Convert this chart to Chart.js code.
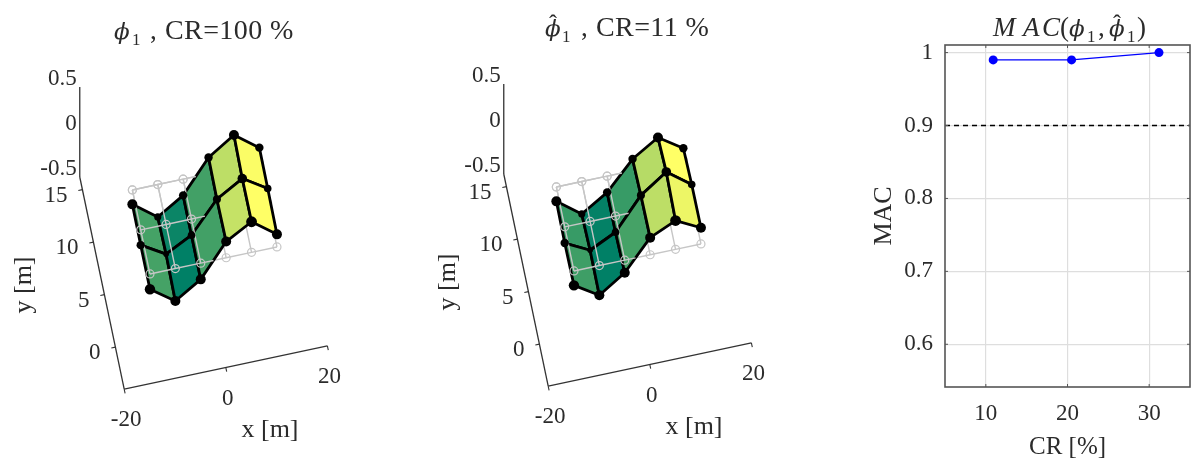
<!DOCTYPE html>
<html>
<head>
<meta charset="utf-8">
<title>MAC chart</title>
<script src="https://cdn.jsdelivr.net/npm/chart.js@4/dist/chart.umd.min.js"></script>
<style>
    html, body { margin: 0; padding: 0; background: #fff; overflow: hidden; }
    canvas { position: absolute; }
    #full { left: 0; top: 0; }
    #reduced { left: 424px; top: -3px; }
    #mac { left: 860px; top: 0; }
</style>
</head>
<body>
<canvas id="full" width="408" height="462"></canvas>
<canvas id="reduced" width="408" height="465"></canvas>
<canvas id="mac" width="332" height="462"></canvas>
<script>
// sensor grid [m]
const gridX = [-10.6, -5.6, -0.6, 4.4, 9.4, 14.4];
const gridY = [14, 10.2, 6];

// mode shape displacement at each sensor, one row per gridY
const modeFull = [
    [-0.16, -0.36, -0.18, 0.18, 0.37, 0.17],
    [-0.17, -0.33, -0.18, 0.16, 0.33, 0.16],
    [-0.17, -0.36, -0.18, 0.18, 0.34, 0.14]
];
const modeReduced = [
    [-0.16, -0.36, -0.18, 0.13, 0.31, 0.13],
    [-0.18, -0.32, -0.18, 0.17, 0.37, 0.17],
    [-0.16, -0.33, -0.14, 0.19, 0.32, 0.18]
];

const xTicks = [-20, 0, 20];
const yTicks = [0, 5, 10, 15];
const zTicks = [-0.5, 0, 0.5];
const zTickLabels = ['-0.5', '0', '0.5'];

// MAC vs compression ratio
const crValues = [10.9, 20.5, 31.2];
const macValues = [0.99, 0.99, 1.0];
const macLimit = [0.9, 0.9];
const crLimit = [5, 35];
const crTicks = [10, 20, 30];
const macTicks = [0.6, 0.7, 0.8, 0.9, 1];

const serif = '"Liberation Serif", serif';
const phiFont = '"DejaVu Serif", serif';
const textColor = '#2b2b2b';

// title pieces: text, left edge, kind
const titleFull = [
    ['ϕ', 114, 'phi'], ['1', 132, 'sub'], [',', 150, 'text'], ['CR=100 %', 165, 'wide']
];
const titleReduced = [
    ['ϕ', 121, 'phi'], ['ˆ', 125, 'hat'], ['1', 138, 'sub'], [',', 157, 'text'], ['CR=11 %', 172, 'wide']
];
const titleMac = [
    ['M', 133, 'math'], ['A', 163, 'math'], ['C', 182, 'math'], ['(', 200, 'text'],
    ['ϕ', 209, 'phi'], ['1', 227, 'sub'], [',', 238, 'text'],
    ['ϕ', 249, 'phi'], ['ˆ', 253, 'hat'], ['1', 267, 'sub'], [')', 277, 'text']
];

// view of the 3D axes, gives a point on the flat plane of the chart
function project(x, y, z) {
    return {
        x: 217 + 5.08 * x - 2.2 * y,
        y: 325.5 - 1.08 * x - 10.5 * y - 90 * z
    };
}

// same colours as matlab "summer"
function summer(t) {
    const r = Math.round(255 * t);
    const g = Math.round(255 * (0.5 + 0.5 * t));
    return `rgb(${r},${g},102)`;
}

function lineSet(points, color, width) {
    return {
        data: points,
        showLine: true,
        borderColor: color,
        borderWidth: width,
        pointRadius: 0,
        tension: 0,
        fill: false
    };
}

function gridSets(columns, stopAt) {
    const gray = '#c6c6c6';
    const sets = [];
    gridY.forEach((y, r) => {
        const end = stopAt ? stopAt[r] : gridX[gridX.length - 1];
        const xs = gridX.filter(x => x < end).concat(end);
        sets.push(lineSet(xs.map(x => project(x, y, 0)), gray, 1.4));
    });
    gridX.slice(0, columns).forEach(x => {
        sets.push(lineSet(gridY.map(y => project(x, y, 0)), gray, 1.4));
    });
    const nodes = [];
    gridY.forEach(y => gridX.slice(0, columns).forEach(x => nodes.push(project(x, y, 0))));
    sets.push({
        data: nodes,
        showLine: false,
        pointRadius: 4,
        pointBackgroundColor: 'rgba(255,255,255,0)',
        pointBorderColor: gray,
        pointBorderWidth: 1.2
    });
    return sets;
}

function surfaceDatasets(mode) {
    const sets = [];
    // only the two lower rows pick a cell colour
    const used = mode.slice(1).flat();
    const low = Math.min(...used);
    const high = Math.max(...used);
    const point = (r, c) => project(gridX[c], gridY[r], mode[r][c]);

    // axes
    const yStart = -4;
    const yEnd = 16.2;
    const xEnd = 20;
    sets.push(lineSet([project(-xEnd, yStart, 0), project(xEnd, yStart, 0)], '#333', 1.3));
    sets.push(lineSet([project(-xEnd, yStart, 0), project(-xEnd, yEnd, 0)], '#333', 1.3));
    sets.push(lineSet([project(-xEnd, yEnd, 0), project(-xEnd, yEnd, 1)], '#333', 1.3));
    xTicks.forEach(t => sets.push(lineSet([project(t, yStart, 0), project(t, yStart - 0.4, 0)], '#333', 1.1)));
    yTicks.forEach(t => sets.push(lineSet([project(-xEnd, t, 0), project(-xEnd - 0.8, t, 0)], '#333', 1.1)));

    // undeformed grid behind the surface
    sets.push(...gridSets(gridX.length, null));

    // surface cells, colour comes from the lower left corner like flat shading
    for (let r = 0; r < gridY.length - 1; r++) {
        for (let c = 0; c < gridX.length - 1; c++) {
            const t = (mode[r + 1][c] - low) / (high - low);
            const cell = [point(r, c), point(r, c + 1), point(r + 1, c + 1), point(r + 1, c), point(r, c)];
            const set = lineSet(cell, '#000', 2.8);
            set.fill = 'shape';
            set.backgroundColor = summer(t);
            set.borderJoinStyle = 'round';
            sets.push(set);
        }
    }

    // part of the grid above the surface, it goes under where the mode crosses zero
    const stopAt = mode.map(row => {
        const c = row.findIndex(v => v > 0);
        const share = -row[c - 1] / (row[c] - row[c - 1]);
        return gridX[c - 1] + share * (gridX[c] - gridX[c - 1]);
    });
    sets.push(...gridSets(3, stopAt));

    // sensors
    const nodes = [];
    const radius = [];
    const sizes = [
        [5, 3.6, 4.2, 4.2, 5, 4.2],
        [4.2, 2.8, 3.8, 4, 4.8, 3.8],
        [5.2, 5, 5, 5, 5.4, 5]
    ];
    mode.forEach((row, r) => row.forEach((v, c) => {
        nodes.push(point(r, c));
        radius.push(sizes[r][c]);
    }));
    sets.push({
        data: nodes,
        showLine: false,
        pointRadius: radius,
        pointBackgroundColor: '#000',
        pointBorderWidth: 0
    });

    // first dataset is painted last in chart.js
    return sets.reverse();
}

const mathTitle = {
    id: 'mathTitle',
    afterDraw(chart, args, opts) {
        const ctx = chart.ctx;
        const fonts = {
            phi: ['italic 23px ' + phiFont, 0],
            sub: ['17px ' + serif, 6],
            text: ['27px ' + serif, 0],
            wide: ['28px ' + serif, 0],
            math: ['italic 27px ' + serif, 0],
            hat: ['24px ' + serif, -5]
        };
        ctx.save();
        ctx.fillStyle = textColor;
        ctx.textBaseline = 'alphabetic';
        ctx.textAlign = 'left';
        opts.pieces.forEach(([label, x, kind]) => {
            ctx.font = fonts[kind][0];
            ctx.letterSpacing = kind === 'wide' ? '0.4px' : '0px';
            ctx.fillText(label, x, opts.baseline + fonts[kind][1]);
        });
        ctx.restore();
    }
};

const axisText = {
    id: 'axisText',
    afterDraw(chart) {
        const { ctx, scales } = chart;
        const px = p => ({ x: scales.x.getPixelForValue(p.x), y: scales.y.getPixelForValue(p.y) });
        const put = (label, p, dx, dy, align) => {
            const at = px(p);
            ctx.textAlign = align;
            ctx.fillText(label, at.x + dx, at.y + dy);
        };
        ctx.save();
        ctx.font = '23px ' + serif;
        ctx.fillStyle = textColor;
        ctx.textBaseline = 'middle';
        xTicks.forEach(t => put(String(t), project(t, -4, 0), 2, 31, 'center'));
        yTicks.forEach(t => put(String(t), project(-20, t, 0), -15, 6, 'right'));
        zTicks.forEach((t, i) => put(zTickLabels[i], project(-20, 16.2, t + 0.5), -3, -8, 'right'));

        ctx.font = '26px ' + serif;
        put('x [m]', { x: 270, y: 430 }, 0, 0, 'center');
        const yTitle = px({ x: 24, y: 285 });
        ctx.translate(yTitle.x, yTitle.y);
        ctx.rotate(-Math.PI / 2);
        ctx.textAlign = 'center';
        ctx.fillText('y [m]', 0, 0);
        ctx.restore();
    }
};

function modeChart(id, mode, pieces) {
    new Chart(document.getElementById(id), {
        type: 'scatter',
        data: { datasets: surfaceDatasets(mode) },
        options: {
            responsive: false,
            animation: false,
            clip: false,
            layout: { autoPadding: false, padding: { top: 45 } },
            scales: {
                x: { display: false, min: 0, max: 408 },
                y: { display: false, reverse: true, min: 45, max: id === 'full' ? 462 : 465 }
            },
            plugins: {
                legend: { display: false },
                tooltip: { enabled: false },
                mathTitle: { pieces: pieces, baseline: 39 }
            }
        },
        plugins: [axisText, mathTitle]
    });
}

modeChart('full', modeFull, titleFull);
modeChart('reduced', modeReduced, titleReduced);

// frame and inner tick marks of the right plot
const macFrame = {
    id: 'macFrame',
    afterDraw(chart) {
        const { ctx, chartArea: a, scales } = chart;
        ctx.save();
        ctx.strokeStyle = '#555';
        ctx.lineWidth = 1;
        ctx.beginPath();
        macTicks.forEach(v => {
            const y = scales.y.getPixelForValue(v);
            ctx.moveTo(a.left, y);
            ctx.lineTo(a.left + 3, y);
            ctx.moveTo(a.right, y);
            ctx.lineTo(a.right - 3, y);
        });
        crTicks.forEach(v => {
            const x = scales.x.getPixelForValue(v);
            ctx.moveTo(x, a.bottom);
            ctx.lineTo(x, a.bottom - 3);
            ctx.moveTo(x, a.top);
            ctx.lineTo(x, a.top + 3);
        });
        ctx.stroke();
        ctx.lineWidth = 1.6;
        ctx.strokeRect(a.left, a.top, a.right - a.left, a.bottom - a.top);
        ctx.restore();
    }
};

new Chart(document.getElementById('mac'), {
    type: 'scatter',
    data: {
        datasets: [
            {
                data: crValues.map((v, i) => ({ x: v, y: macValues[i] })),
                showLine: true,
                borderColor: '#0000ff',
                borderWidth: 1.3,
                pointRadius: 4.5,
                pointBackgroundColor: '#0000ff',
                pointBorderWidth: 0,
                tension: 0
            },
            {
                data: crLimit.map((v, i) => ({ x: v, y: macLimit[i] })),
                showLine: true,
                borderColor: '#000',
                borderWidth: 1.4,
                borderDash: [5, 4],
                pointRadius: 0
            }
        ]
    },
    options: {
        responsive: false,
        animation: false,
        layout: { autoPadding: false, padding: { top: 45, right: 2 } },
        scales: {
            x: {
                min: 5,
                max: 35,
                afterBuildTicks: s => { s.ticks = crTicks.map(v => ({ value: v })); },
                afterFit: s => { s.height = 75; },
                grid: { color: '#dedede', lineWidth: 1.2, drawTicks: false },
                border: { display: false },
                ticks: { color: textColor, font: { family: serif, size: 23 }, padding: 13, maxRotation: 0 },
                title: {
                    display: true,
                    text: 'CR [%]',
                    color: textColor,
                    font: { family: serif, size: 25 },
                    padding: { top: 2, bottom: 0 }
                }
            },
            y: {
                min: 0.5414,
                max: 1.0104,
                afterBuildTicks: s => { s.ticks = macTicks.map(v => ({ value: v })); },
                afterFit: s => { s.width = 85; },
                grid: { color: '#dedede', lineWidth: 1.2, drawTicks: false },
                border: { display: false },
                ticks: {
                    color: textColor,
                    font: { family: serif, size: 23 },
                    padding: 12,
                    callback: v => (v === 1 ? '1' : v.toFixed(1))
                },
                title: {
                    display: true,
                    text: 'MAC',
                    color: textColor,
                    font: { family: serif, size: 26 },
                    padding: { top: 9, bottom: 0 }
                }
            }
        },
        plugins: {
            legend: { display: false },
            tooltip: { enabled: false },
            mathTitle: { pieces: titleMac, baseline: 36 }
        }
    },
    plugins: [macFrame, mathTitle]
});
</script>
</body>
</html>
